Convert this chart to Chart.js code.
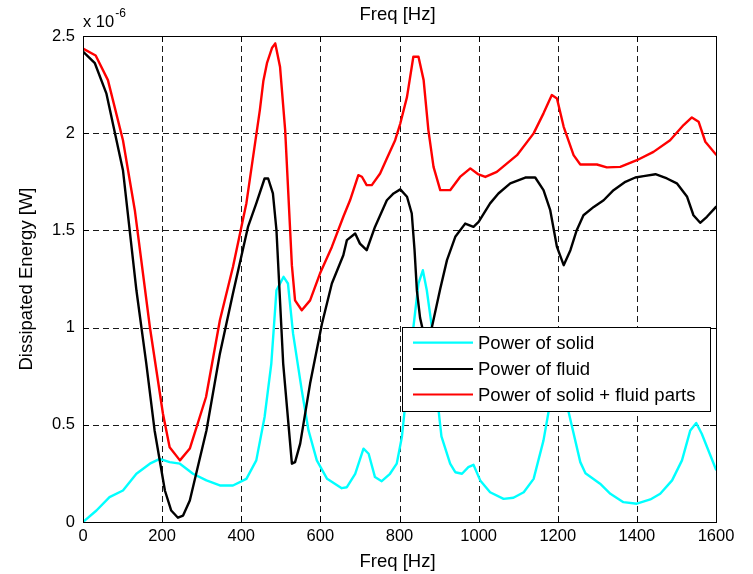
<!DOCTYPE html>
<html><head><meta charset="utf-8">
<script src="https://cdn.jsdelivr.net/npm/chart.js@4/dist/chart.umd.min.js"></script>
<style>html,body{margin:0;padding:0;background:#fff;overflow:hidden}canvas{display:block}</style>
</head><body>
<canvas id="c" width="753" height="574"></canvas>
<script>
// ---- data (values in units of 1e-6 W) ----
const freqSolid = [0,34,67,101,135,169,194,219,245,278,312,346,379,413,438,459,476,489,507,518,531,553,570,591,617,654,667,688,709,722,738,755,776,793,806,819,835,848,859,869,882,899,906,928,941,958,974,987,1004,1029,1063,1088,1114,1139,1164,1177,1190,1200,1210,1227,1257,1270,1307,1333,1366,1400,1434,1459,1489,1514,1535,1550,1564,1600];
const powerSolid = [0.0,0.059,0.128,0.162,0.248,0.3,0.325,0.308,0.3,0.248,0.214,0.188,0.188,0.222,0.317,0.54,0.815,1.192,1.261,1.227,0.969,0.677,0.471,0.317,0.222,0.174,0.179,0.248,0.377,0.351,0.231,0.21,0.248,0.3,0.437,0.694,1.0,1.227,1.295,1.192,1.0,0.57,0.44,0.3,0.256,0.248,0.282,0.294,0.214,0.153,0.119,0.125,0.153,0.222,0.42,0.57,0.73,0.82,0.78,0.57,0.308,0.251,0.197,0.145,0.102,0.094,0.116,0.145,0.214,0.317,0.471,0.509,0.454,0.27];

const freqFluid = [0,30,59,101,135,160,181,207,223,240,253,270,312,346,379,417,438,459,468,480,489,506,528,536,549,574,604,629,658,667,688,700,717,738,768,785,802,819,831,838,844,852,861,870,882,903,920,941,966,987,1000,1029,1050,1080,1118,1143,1164,1181,1198,1215,1232,1248,1265,1291,1316,1341,1371,1396,1417,1447,1476,1501,1527,1543,1560,1577,1600];
const powerFluid = [2.42,2.36,2.205,1.81,1.192,0.815,0.471,0.162,0.059,0.022,0.033,0.111,0.471,0.866,1.175,1.518,1.639,1.767,1.767,1.69,1.501,0.815,0.3,0.308,0.403,0.712,1.02,1.227,1.372,1.45,1.484,1.432,1.398,1.518,1.655,1.69,1.711,1.673,1.587,1.4,1.19,1.05,0.97,0.9,1.003,1.2,1.347,1.467,1.535,1.518,1.544,1.639,1.69,1.742,1.772,1.772,1.707,1.604,1.415,1.321,1.398,1.501,1.578,1.621,1.655,1.707,1.75,1.772,1.779,1.789,1.767,1.742,1.673,1.578,1.539,1.57,1.621];

const freqTotal = [0,32,63,101,131,169,202,219,245,270,311,346,379,413,447,456,465,478,486,498,511,528,536,553,574,599,629,658,675,696,705,717,730,751,768,789,802,819,835,848,861,873,886,903,928,953,979,998,1017,1046,1097,1139,1164,1185,1198,1215,1240,1257,1299,1324,1358,1400,1442,1484,1518,1539,1556,1573,1600];
const powerTotal = [2.435,2.40,2.273,1.964,1.604,1.003,0.558,0.385,0.317,0.378,0.643,1.038,1.312,1.64,2.119,2.27,2.36,2.44,2.462,2.342,2.016,1.32,1.14,1.089,1.14,1.278,1.415,1.57,1.655,1.784,1.776,1.733,1.733,1.793,1.87,1.964,2.05,2.187,2.393,2.393,2.273,2.016,1.827,1.707,1.707,1.775,1.819,1.79,1.775,1.801,1.887,1.999,2.102,2.196,2.179,2.033,1.887,1.839,1.839,1.824,1.827,1.861,1.904,1.964,2.042,2.081,2.059,1.956,1.89];

const xTickValues = [0,200,400,600,800,1000,1200,1400,1600];
const xTickLabels = ['0','200','400','600','800','1000','1200','1400','1600'];
const yTickValues = [0,0.5,1,1.5,2,2.5];
const yTickLabels = ['0','0.5','1','1.5','2','2.5'];
const seriesNames = ['Power of solid','Power of fluid','Power of solid + fluid parts'];
const seriesColors = ['#00FFFF','#000000','#FF0000'];
const topTitle = 'Freq [Hz]';
const xTitle = 'Freq [Hz]';
const yTitle = 'Dissipated Energy [W]';
const expBase = 'x 10';
const expPower = '-6';

// ---- rendering ----
const FONT = '"Liberation Sans", Arial, Helvetica, sans-serif';
const toPts = (xs, ys) => xs.map((v, i) => ({x: v, y: ys[i]}));

const decor = {
  id: 'decor',
  beforeDatasetsDraw(chart) {
    const {ctx, chartArea: a, scales: {x, y}} = chart;
    ctx.save();
    ctx.strokeStyle = '#1a1a1a';
    ctx.lineWidth = 1;
    ctx.setLineDash([6, 4]);
    xTickValues.forEach(v => {
      const px = Math.round(x.getPixelForValue(v)) + 0.5;
      ctx.beginPath(); ctx.moveTo(px, a.bottom); ctx.lineTo(px, a.top); ctx.stroke();
    });
    yTickValues.forEach(v => {
      const py = Math.round(y.getPixelForValue(v)) + 0.5;
      ctx.beginPath(); ctx.moveTo(a.left, py); ctx.lineTo(a.right, py); ctx.stroke();
    });
    ctx.restore();
  },
  afterDatasetsDraw(chart) {
    const {ctx, chartArea: a, scales: {x, y}} = chart;
    ctx.save();
    ctx.strokeStyle = '#000';
    ctx.lineWidth = 1;
    ctx.setLineDash([]);
    ctx.strokeRect(a.left + 0.5, a.top + 0.5, a.right - a.left, a.bottom - a.top);
    const tl = 6;
    ctx.beginPath();
    xTickValues.forEach(v => {
      const px = Math.round(x.getPixelForValue(v)) + 0.5;
      ctx.moveTo(px, a.bottom); ctx.lineTo(px, a.bottom - tl);
      ctx.moveTo(px, a.top); ctx.lineTo(px, a.top + tl);
    });
    yTickValues.forEach(v => {
      const py = Math.round(y.getPixelForValue(v)) + 0.5;
      ctx.moveTo(a.left, py); ctx.lineTo(a.left + tl, py);
      ctx.moveTo(a.right, py); ctx.lineTo(a.right - tl, py);
    });
    ctx.stroke();
    // legend
    const lx = 402, ly = 327, lw = 308, lh = 84;
    ctx.fillStyle = '#fff';
    ctx.fillRect(lx, ly, lw, lh);
    ctx.strokeStyle = '#000';
    ctx.lineWidth = 1;
    ctx.strokeRect(lx + 0.5, ly + 0.5, lw, lh);
    const rows = [342.7, 369.0, 394.5];
    ctx.font = '18.5px ' + FONT;
    ctx.textBaseline = 'middle';
    ctx.textAlign = 'left';
    chart.data.datasets.forEach((ds, i) => {
      ctx.strokeStyle = ds.borderColor;
      ctx.lineWidth = 2.2;
      ctx.beginPath(); ctx.moveTo(413, rows[i]); ctx.lineTo(473, rows[i]); ctx.stroke();
      ctx.fillStyle = '#000';
      ctx.fillText(ds.label, 478, rows[i] + 1);
    });
    ctx.restore();
  },
  afterDraw(chart) {
    const {ctx, chartArea: a} = chart;
    ctx.save();
    ctx.fillStyle = '#000';
    ctx.textBaseline = 'alphabetic';
    ctx.textAlign = 'center';
    ctx.font = '18.5px ' + FONT;
    const cx = (a.left + a.right) / 2 - 2;
    ctx.fillText(topTitle, cx, 20);
    ctx.fillText(xTitle, cx, 566.5);
    ctx.save();
    ctx.translate(32, (a.top + a.bottom) / 2);
    ctx.rotate(-Math.PI / 2);
    ctx.fillText(yTitle, 0, 0);
    ctx.restore();
    ctx.textAlign = 'left';
    ctx.font = '16.5px ' + FONT;
    ctx.fillText(expBase, 83, 26.5);
    const w = ctx.measureText(expBase).width;
    ctx.font = '12px ' + FONT;
    ctx.fillText(expPower, 83 + w + 1, 17);
    ctx.restore();
  }
};

new Chart(document.getElementById('c'), {
  type: 'line',
  data: {
    datasets: [
      {label: seriesNames[0], data: toPts(freqSolid, powerSolid), borderColor: seriesColors[0], order: 2},
      {label: seriesNames[1], data: toPts(freqFluid, powerFluid), borderColor: seriesColors[1], order: 1},
      {label: seriesNames[2], data: toPts(freqTotal, powerTotal), borderColor: seriesColors[2], order: 0}
    ].map(d => Object.assign(d, {borderWidth: 2.4, pointRadius: 0, tension: 0, fill: false, borderJoinStyle: 'round', borderCapStyle: 'round'}))
  },
  options: {
    responsive: false,
    animation: false,
    devicePixelRatio: 1,
    events: [],
    layout: {padding: {top: 36, right: 37, left: 0, bottom: 0}},
    plugins: {legend: {display: false}, tooltip: {enabled: false}, title: {display: false}},
    scales: {
      x: {
        type: 'linear', min: 0, max: 1600,
        afterBuildTicks: s => { s.ticks = xTickValues.map(v => ({value: v})); },
        afterFit: s => { s.height = 52; },
        grid: {display: false, drawTicks: false},
        border: {display: false},
        ticks: {color: '#000', font: {size: 16.5, family: FONT}, padding: 5, maxRotation: 0, autoSkip: false,
          callback: (v) => { const i = xTickValues.indexOf(v); return i >= 0 ? xTickLabels[i] : ''; }}
      },
      y: {
        type: 'linear', min: 0, max: 2.5,
        afterBuildTicks: s => { s.ticks = yTickValues.map(v => ({value: v})); },
        afterFit: s => { s.width = 83; },
        grid: {display: false, drawTicks: false},
        border: {display: false},
        ticks: {color: '#000', font: {size: 16.5, family: FONT}, padding: 8, autoSkip: false,
          callback: (v) => { const i = yTickValues.indexOf(v); return i >= 0 ? yTickLabels[i] : ''; }}
      }
    }
  },
  plugins: [decor]
});
</script>
</body></html>
